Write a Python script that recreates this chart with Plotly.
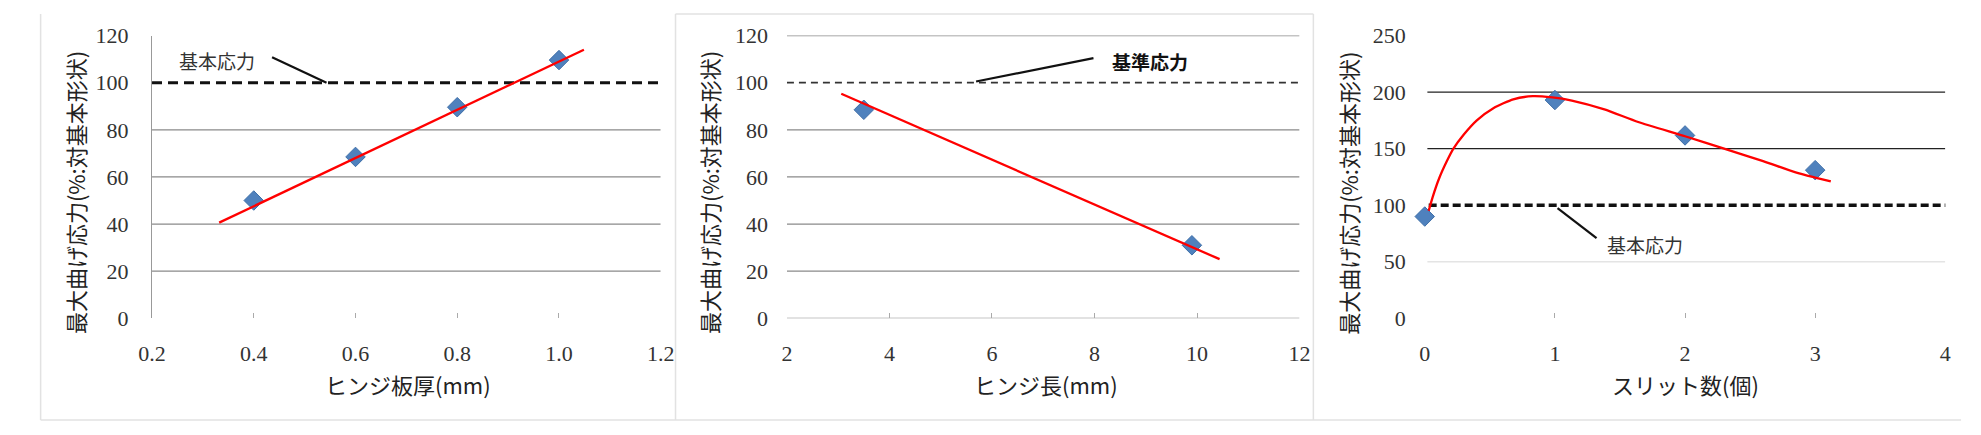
import plotly.graph_objects as go

W, H = 1981, 435

# ---------------- data ----------------
# Panel 1: hinge plate thickness
p1_x = [0.4, 0.6, 0.8, 1.0]
p1_y = [50, 68.5, 89.6, 109.6]
p1_trend_x = [0.332, 1.049]
p1_trend_y = [40.6, 114.0]

# Panel 2: hinge length
p2_x = [3.5, 9.9]
p2_y = [88.5, 31.0]
p2_trend_x = [3.06, 10.44]
p2_trend_y = [95.3, 25.1]

# Panel 3: number of slits
p3_x = [0, 1, 2, 3]
p3_y = [90, 193, 161.7, 131]
p3_curve_x = [0.03, 0.06, 0.11, 0.17, 0.22, 0.30, 0.40, 0.53, 0.68, 0.83, 0.98, 1.13,
              1.38, 1.64, 2.00, 2.30, 2.60, 2.85, 3.00, 3.12]
p3_curve_y = [95, 107, 123.6, 139, 150, 162.5, 175, 186, 193.6, 196.4, 195.3, 192.5,
              184.7, 173.6, 161, 150, 139, 129, 124.4, 121]

base_stress = 100
p1_base_x = [0.2, 1.2]
p2_base_x = [2, 12]
p3_base_x = [0.03, 4.05]

p1_grid = [20, 40, 60, 80]
p2_grid = [0, 20, 40, 60, 80, 120]
p3_grid_dark = [150, 200]
p3_grid_light = [50]

p1_xticks = [0.2, 0.4, 0.6, 0.8, 1.0, 1.2]
p2_xticks = [2, 4, 6, 8, 10, 12]
p3_xticks = [0, 1, 2, 3, 4]
p12_yticks = [0, 20, 40, 60, 80, 100, 120]
p3_yticks = [0, 50, 100, 150, 200, 250]

y_title = "最大曲げ応力(%:対基本形状)"
x_titles = ["ヒンジ板厚(mm)", "ヒンジ長(mm)", "スリット数(個)"]

# ---------------- layout helpers ----------------
def px(x):
    return x / W

def py(y):
    return 1 - y / H

SERIF = "Liberation Serif"
GOTHIC = "Noto Sans CJK JP"
BLUE = "#4F81BD"
RED = "#FF0000"

fig = go.Figure()

def add_panel(n, xs, ys, tx, ty, base_x, dash_style, dash_width, dash_color, curve_shape="linear"):
    xa = "x" if n == 1 else f"x{n}"
    ya = "y" if n == 1 else f"y{n}"
    fig.add_trace(go.Scatter(x=base_x, y=[base_stress, base_stress], mode="lines",
                             line=dict(color=dash_color, width=dash_width, dash=dash_style),
                             xaxis=xa, yaxis=ya, showlegend=False, hoverinfo="skip",
                             cliponaxis=False))
    fig.add_trace(go.Scatter(x=xs, y=ys, mode="markers",
                             marker=dict(symbol="diamond", size=15, color=BLUE,
                                         line=dict(color="#3f6fa8", width=1)),
                             xaxis=xa, yaxis=ya, showlegend=False, cliponaxis=False))
    fig.add_trace(go.Scatter(x=tx, y=ty, mode="lines",
                             line=dict(color=RED, width=2.3, shape=curve_shape, smoothing=0.6),
                             xaxis=xa, yaxis=ya, showlegend=False, hoverinfo="skip",
                             cliponaxis=False))

add_panel(1, p1_x, p1_y, p1_trend_x, p1_trend_y, p1_base_x, "10px,6px", 3, "#111")
add_panel(2, p2_x, p2_y, p2_trend_x, p2_trend_y, p2_base_x, "7px,5px", 1.8, "#333")
add_panel(3, p3_x, p3_y, p3_curve_x, p3_curve_y, p3_base_x, "8px,4px", 3.5, "#111", "spline")

ydom = [py(325), py(25)]
xdoms = [[px(140), px(656)], [px(784), px(1304)], [px(1431), px(1959)]]
xranges = [[0.2, 1.2], [2, 12], [0, 4]]
xtickss = [p1_xticks, p2_xticks, p3_xticks]
xfmt = [".1f", "d", "d"]
yranges = [[0, 120], [0, 120], [0, 250]]
ytickss = [p12_yticks, p12_yticks, p3_yticks]

tickfont = dict(family=SERIF, size=22, color="#333")
for i in range(3):
    k = "" if i == 0 else str(i + 1)
    fig.layout["xaxis" + k] = dict(
        domain=xdoms[i], range=xranges[i], tickvals=xtickss[i], tickformat=xfmt[i],
        showgrid=False, zeroline=False, showline=False,
        ticks="inside", ticklen=5, tickcolor="#aaa", tickwidth=1,
        tickfont=tickfont, ticklabelstandoff=20,
        anchor="y" if i == 0 else "y" + k, fixedrange=True)
    fig.layout["yaxis" + k] = dict(
        domain=ydom, range=yranges[i], tickvals=ytickss[i],
        showgrid=False, zeroline=False,
        showline=(i == 0), linecolor="#999", linewidth=1.3,
        ticks="", tickfont=tickfont, ticklabelstandoff=18,
        anchor="x" if i == 0 else "x" + k, fixedrange=True)

shapes = []
def hgrid(n, vals, xr, color, width):
    xa = "x" if n == 1 else f"x{n}"
    ya = "y" if n == 1 else f"y{n}"
    for v in vals:
        shapes.append(dict(type="line", xref=xa, yref=ya, x0=xr[0], x1=xr[1], y0=v, y1=v,
                           line=dict(color=color, width=width), layer="below"))

hgrid(1, p1_grid, xranges[0], "#8a8a8a", 1.3)
hgrid(2, p2_grid, xranges[1], "#8a8a8a", 1.3)
hgrid(3, p3_grid_dark, [0.02, 4], "#222", 1.3)
hgrid(3, p3_grid_light, [0.02, 4], "#e4e4e4", 1.3)

# leader lines for the base-stress labels
leaders = [
    ("x", "y", 0.436, 110.8, 0.543, 100),
    ("x2", "y2", 7.98, 110.4, 5.69, 100.5),
    ("x3", "y3", 1.02, 97.5, 1.32, 70.8),
]
for xa, ya, x0, y0, x1, y1 in leaders:
    shapes.append(dict(type="line", xref=xa, yref=ya, x0=x0, y0=y0, x1=x1, y1=y1,
                       line=dict(color="#111", width=2.2)))

# faint panel frames
frame = dict(color="#e2e2e2", width=1.5)
for x in [27, 671, 1318]:
    shapes.append(dict(type="line", xref="paper", yref="paper", x0=px(x), x1=px(x), y0=py(433), y1=py(2), line=frame))
shapes.append(dict(type="line", xref="paper", yref="paper", x0=px(27), x1=px(1975), y0=py(433), y1=py(433), line=frame))
shapes.append(dict(type="line", xref="paper", yref="paper", x0=px(671), x1=px(1318), y0=py(2), y1=py(2), line=frame))
fig.update_layout(shapes=shapes)

annotations = []
titlefont = dict(family=GOTHIC, size=22, color="#222")
for xc in [62, 705, 1353]:
    annotations.append(dict(text=y_title, x=px(xc), y=py(192), xref="paper", yref="paper",
                            textangle=-90, showarrow=False, font=titlefont,
                            xanchor="center", yanchor="middle"))
for xc, t in zip([400, 1047, 1695], x_titles):
    annotations.append(dict(text=t, x=px(xc), y=py(395), xref="paper", yref="paper",
                            showarrow=False, font=titlefont, xanchor="center", yanchor="middle"))

labfont = dict(family=GOTHIC, size=19, color="#333")
annotations.append(dict(text="基本応力", x=0.328, y=109.6, xref="x", yref="y",
                        showarrow=False, font=labfont))
annotations.append(dict(text="<b>基準応力</b>", x=9.08, y=108.9, xref="x2", yref="y2",
                        showarrow=False, font=dict(family=GOTHIC, size=19, color="#111")))
annotations.append(dict(text="基本応力", x=1.69, y=65, xref="x3", yref="y3",
                        showarrow=False, font=labfont))
fig.update_layout(annotations=annotations)

fig.update_layout(width=W, height=H, margin=dict(l=0, r=0, t=0, b=0),
                  paper_bgcolor="white", plot_bgcolor="white", showlegend=False)

fig.write_html("out.html")
